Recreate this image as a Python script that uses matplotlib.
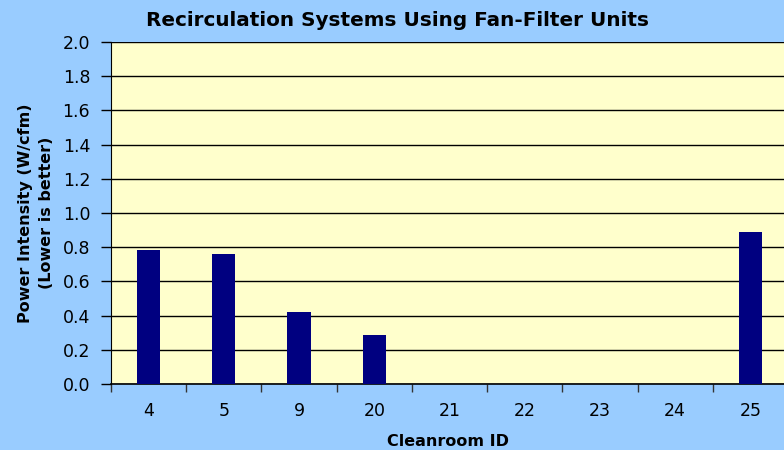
import matplotlib
matplotlib.use("Agg")
import matplotlib.pyplot as plt
import numpy as np

plt.rcParams['font.family'] = ['DejaVu Sans']

categories = ["4", "5", "9", "20", "21", "22", "23", "24", "25"]
values = [0.785, 0.758, 0.421, 0.287, 0, 0, 0, 0, 0.89]
yticks = [0.0, 0.2, 0.4, 0.6, 0.8, 1.0, 1.2, 1.4, 1.6, 1.8, 2.0]

fig = plt.figure(figsize=(7.84, 4.5), dpi=100, facecolor="#99CCFF")
W, H = 784, 450
left, right, top, bottom = 111, 788, 42, 384
ax = fig.add_axes([left / W, 1 - bottom / H, (right - left) / W, (bottom - top) / H])
ax.set_facecolor("#FFFFCC")

x = np.arange(len(categories))
ax.bar(x, values, width=0.31, color="#000080", zorder=3)
ax.set_xlim(-0.5, len(categories) - 0.5)
ax.set_ylim(0, 2.0)
ax.set_yticks(yticks)
ax.set_yticklabels([f"{v:.1f}" for v in yticks], fontsize=12.5)
ax.yaxis.grid(True, color="black", linewidth=1, zorder=0)
ax.set_axisbelow(True)

ax.set_xticks(x)
ax.set_xticklabels(categories, fontsize=12.5)
ax.set_xticks(np.arange(-0.5, len(categories)), minor=True)
ax.tick_params(axis="x", which="major", length=0, pad=13)
ax.tick_params(axis="x", which="minor", length=6, width=1, color="#333333", direction="out")
ax.tick_params(axis="y", length=7, width=1, direction="out", pad=8)

for s in ["top", "right"]:
    ax.spines[s].set_visible(False)
ax.spines["left"].set_color("black")
ax.spines["bottom"].set_color("black")
ax.spines["bottom"].set_linewidth(1.2)

fig.text(398 / W, 1 - 21 / H, "Recirculation Systems Using Fan-Filter Units",
         ha="center", va="center", fontsize=14.4, fontweight="bold")
fig.text(36 / W, 1 - 213 / H, "Power Intensity (W/cfm)\n(Lower is better)",
         ha="center", va="center", rotation=90, fontsize=11.5, fontweight="bold",
         linespacing=1.45)
fig.text(448 / W, 1 - 442 / H, "Cleanroom ID", ha="center", va="center",
         fontsize=11.5, fontweight="bold")

fig.savefig("out.png", dpi=100, facecolor=fig.get_facecolor())
